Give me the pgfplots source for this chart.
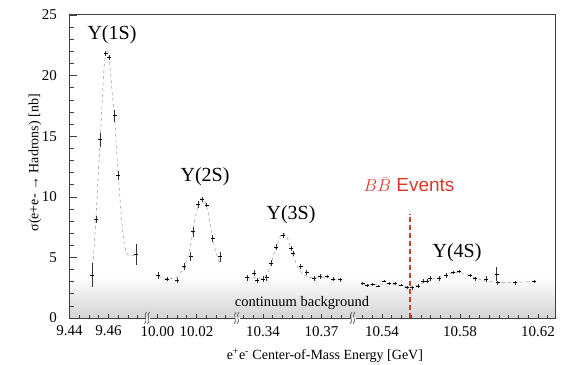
\documentclass[border=0pt]{standalone}
\usepackage{pgfplots}
\pgfplotsset{compat=1.18}
\usepackage{pgfplotstable}
\usepackage{fontspec}
\setmainfont{Liberation Serif}
\newfontfamily\labelsans{Liberation Sans}
\definecolor{bbred}{RGB}{218,57,43}
\definecolor{fitgray}{RGB}{150,150,150}

% Broken energy axis: each scan window keeps the same scale (1950 units per GeV)
\newcommand\segA[1]{(69.5+((#1)-9.44)*1950)}
\newcommand\segB[1]{(157.5+((#1)-10.00)*1950)}
\newcommand\segC[1]{(263+((#1)-10.34)*1950)}
\newcommand\segD[1]{(382+((#1)-10.54)*1950)}

\begin{document}
% measured cross sections: energy [GeV], sigma [nb], error [nb]
\pgfplotstableread{
E s e
9.4517 3.55 1.0
9.4537 8.15 0.3
9.4558 14.70 0.6
9.4585 21.85 0.2
9.4603 21.50 0.2
9.4632 16.70 0.5
9.4650 11.75 0.4
9.4740 5.25 0.85
}\dataA
\pgfplotstableread{
E s e
10.0004 3.50 0.3
10.0051 3.22 0.2
10.0100 3.08 0.2
10.0137 4.23 0.3
10.0170 5.07 0.35
10.0181 7.10 0.4
10.0207 9.36 0.3
10.0230 9.79 0.2
10.0252 9.32 0.2
10.0283 6.58 0.3
10.0322 5.06 0.4
}\dataB
\pgfplotstableread{
E s e
10.3319 3.33 0.25
10.3355 3.69 0.25
10.3371 3.08 0.2
10.3402 3.22 0.25
10.3419 3.33 0.25
10.3441 4.51 0.25
10.3468 5.83 0.25
10.3504 6.80 0.2
10.3544 5.75 0.2
10.3555 5.34 0.2
10.3593 4.23 0.2
10.3624 3.77 0.2
10.3663 3.27 0.2
10.3692 3.41 0.2
10.3727 3.41 0.15
10.3761 3.22 0.15
10.3795 3.14 0.15
}\dataC
\pgfplotstableread{
E s e
10.5301 2.81 0.12
10.5325 2.67 0.12
10.5352 2.78 0.12
10.5381 2.64 0.12
10.5410 3.05 0.12
10.5437 2.86 0.12
10.5467 2.86 0.12
10.5497 2.72 0.12
10.5527 2.49 0.12
10.5554 2.50 0.15
10.5584 2.64 0.15
10.5609 3.04 0.15
10.5633 3.05 0.15
10.5646 3.24 0.2
10.5694 3.27 0.2
10.5728 3.52 0.2
10.5766 3.74 0.12
10.5796 3.82 0.12
10.5851 3.52 0.12
10.5877 3.24 0.15
10.5933 3.19 0.25
10.5988 3.63 0.55
10.5993 2.91 0.15
10.6082 2.91 0.15
10.6179 3.00 0.15
}\dataD
% resonance line shapes
\pgfplotstableread{
E s
9.4517 3.9
9.4526 5.8
9.4536 8.3
9.4546 11.5
9.4558 14.8
9.4569 18.3
9.4579 21.0
9.4590 22.1
9.4600 21.8
9.4610 20.3
9.4621 18.2
9.4632 16.4
9.4641 14.0
9.4650 11.8
9.4662 9.2
9.4672 7.3
9.4682 6.0
9.4695 5.3
9.4710 5.1
9.4726 5.15
9.4740 5.3
}\fitA
\pgfplotstableread{
E s
10.0004 3.45
10.0028 3.30
10.0054 3.25
10.0079 3.25
10.0100 3.35
10.0121 3.80
10.0137 4.30
10.0156 5.10
10.0172 6.20
10.0187 7.70
10.0203 9.00
10.0218 9.75
10.0228 9.90
10.0241 9.70
10.0254 9.10
10.0269 7.90
10.0285 6.50
10.0300 5.40
10.0315 4.70
10.0326 4.50
}\fitB
\pgfplotstableread{
E s
10.3318 3.30
10.3344 3.35
10.3369 3.30
10.3395 3.30
10.3415 3.50
10.3436 4.20
10.3456 5.30
10.3477 6.30
10.3492 6.85
10.3508 7.00
10.3523 6.70
10.3538 6.00
10.3559 5.00
10.3579 4.20
10.3600 3.70
10.3621 3.45
10.3641 3.35
10.3667 3.30
10.3692 3.35
10.3723 3.35
10.3759 3.25
10.3795 3.15
}\fitC
\pgfplotstableread{
E s
10.5297 2.80
10.5349 2.75
10.5400 2.80
10.5451 2.80
10.5503 2.65
10.5544 2.55
10.5582 2.70
10.5626 3.00
10.5667 3.25
10.5705 3.45
10.5746 3.65
10.5787 3.75
10.5828 3.65
10.5869 3.35
10.5910 3.15
10.5951 3.00
10.6003 2.95
10.6082 2.95
10.6179 3.00
}\fitD
\begin{tikzpicture}
\path[use as bounding box] (0,0) rectangle (561pt,364pt);
\begin{axis}[
  at={(69.5pt,46pt)}, anchor=south west,
  scale only axis, width=485.5pt, height=303pt,
  xmin=69.5, xmax=555, ymin=0, ymax=25,
  axis on top, clip=false,
  axis line style={draw=black!75, line width=1pt},
  tick pos=left, tick align=inside,
  xtick={69.5,108.5,157.5,196.5,263,321.5,382,460,538},
  xticklabels={9.44,9.46,10.00,10.02,10.34,10.37,10.54,10.58,10.62},
  minor xtick={79.25,89,98.75,118.25,128,137.75,
    167.25,177,186.75,206.25,216,225.75,
    243.5,253.25,272.75,282.5,292.25,302,311.75,331.25,341,350.75,
    362.5,372.25,391.75,401.5,411.25,421,430.75,440.5,450.25,
    469.75,479.5,489.25,499,508.75,518.5,528.25,547.75},
  ytick={0,5,...,25}, minor y tick num=4,
  xtick style={black!75, line width=0.6pt, /pgfplots/major tick length=4pt, /pgfplots/minor tick length=3pt},
  ytick style={black!75, line width=0.6pt, /pgfplots/major tick length=7pt, /pgfplots/minor tick length=4.5pt},
  /pgf/number format/assume math mode=true,
  ticklabel style={font=\fontsize{15}{17}\selectfont},
  xticklabel style={yshift=-4.5pt},
  yticklabel style={xshift=-9pt},
  xlabel={e\textsuperscript{+}e\textsuperscript{-} Center-of-Mass Energy [GeV]},
  ylabel={σ(e+e- → Hadrons) [nb]},
  label style={font=\fontsize{14}{16}\selectfont},
  xlabel style={at={(rel axis cs:0.526,0)}, anchor=center, yshift=-38pt},
  ylabel style={at={(rel axis cs:-0.0711,0.512)}, anchor=center},
]
% continuum level shading
\fill[top color=white, bottom color=black!17] (axis cs:69.5,0) rectangle (axis cs:555,3.45);
\node[font=\fontsize{14.5}{16}\selectfont] at (axis cs:302,1.24) {continuum background};

% line shapes
\addplot[fitgray, dashed, line width=0.5pt, smooth] table[x expr=\segA{\thisrow{E}}, y=s] {\fitA};
\addplot[fitgray, dashed, line width=0.5pt, smooth] table[x expr=\segB{\thisrow{E}}, y=s] {\fitB};
\addplot[fitgray, dashed, line width=0.5pt, smooth] table[x expr=\segC{\thisrow{E}}, y=s] {\fitC};
\addplot[fitgray, dashed, line width=0.5pt, smooth] table[x expr=\segD{\thisrow{E}}, y=s] {\fitD};

% measurements
\pgfplotsset{meas/.style={only marks, mark=-, mark size=2pt, black, line width=0.9pt,
  error bars/.cd, y dir=both, y explicit, error mark=none,
  error bar style={line width=0.5pt, black!80}}}
\addplot[meas] table[x expr=\segA{\thisrow{E}}, y=s, y error=e] {\dataA};
\addplot[meas] table[x expr=\segB{\thisrow{E}}, y=s, y error=e] {\dataB};
\addplot[meas] table[x expr=\segC{\thisrow{E}}, y=s, y error=e] {\dataC};
\addplot[meas] table[x expr=\segD{\thisrow{E}}, y=s, y error=e] {\dataD};

% B Bbar production threshold
\addplot[bbred, line width=2.2pt, dash pattern=on 5pt off 3pt]
  table[x expr=\segD{\thisrow{E}}, y=s] {
E s
10.5544 0
10.5544 8.6
};
\node[text=bbred, font=\labelsans\fontsize{19}{21}\selectfont] at (axis cs:409,10.97) {$B\bar{B}$ Events};

% resonance names
\node[font=\fontsize{20}{22}\selectfont] at (axis cs:112,23.35) {Υ(1S)};
\node[font=\fontsize{20}{22}\selectfont] at (axis cs:205,11.63) {Υ(2S)};
\node[font=\fontsize{20}{22}\selectfont] at (axis cs:291,8.5) {Υ(3S)};
\node[font=\fontsize{20}{22}\selectfont] at (axis cs:457,5.36) {Υ(4S)};

\coordinate (brk1) at (axis cs:147.5,0);
\coordinate (brk2) at (axis cs:237,0);
\coordinate (brk3) at (axis cs:353,0);
\end{axis}
% axis break marks
\foreach \c in {brk1,brk2,brk3} {
  \begin{scope}[shift={(\c)}]
    \fill[white] (-2.5pt,-1.5pt) rectangle (2.5pt,1.5pt);
    \draw[black!75, line width=0.6pt] (-3pt,-6pt) .. controls (1pt,-3pt) and (-5pt,3pt) .. (-1pt,6pt);
    \draw[black!75, line width=0.6pt] (0pt,-6pt) .. controls (4pt,-3pt) and (-2pt,3pt) .. (2pt,6pt);
  \end{scope}
}
\end{tikzpicture}
\end{document}
